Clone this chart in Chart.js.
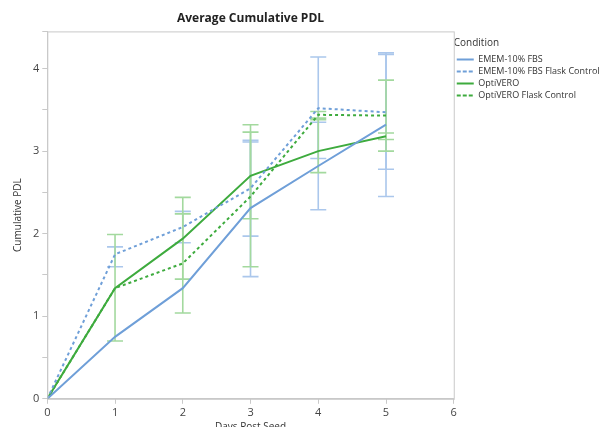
<!DOCTYPE html>
<html lang="en">
<head>
  <meta charset="UTF-8" />
  <title>Average Cumulative PDL</title>
  <script src="https://cdn.jsdelivr.net/npm/chart.js"></script>
  <style>
    body { margin: 0; background: #fff; }
    #wrap { width: 603px; height: 427px; }
  </style>
</head>
<body>
  <div id="wrap"><canvas id="grafico" width="603" height="427"></canvas></div>

  <script>
    // days post seed
    const days = [0, 1, 2, 3, 4, 5];

    // mean cumulative PDL per condition
    const ememFbs       = [0, 0.75, 1.34, 2.31, 2.82, 3.32];
    const ememFlask     = [0, 1.75, 2.08, 2.55, 3.52, 3.47];
    const optivero      = [0, 1.34, 1.94, 2.70, 3.00, 3.18];
    const optiveroFlask = [0, 1.34, 1.64, 2.45, 3.44, 3.43];

    // error bar ends (null = no bar)
    const ememFbsLow        = [null, null, null, 1.48, 2.29, 2.45];
    const ememFbsHigh       = [null, null, null, 3.13, 3.35, 4.19];
    const ememFlaskLow      = [null, 1.60, 1.89, 1.97, 2.91, 2.78];
    const ememFlaskHigh     = [null, 1.84, 2.27, 3.11, 4.14, 4.17];
    const optiveroLow       = [null, 0.70, 1.45, 2.18, 2.74, 3.14];
    const optiveroHigh      = [null, 1.99, 2.44, 3.23, 3.38, 3.22];
    const optiveroFlaskLow  = [null, null, 1.04, 1.60, 3.40, 3.00];
    const optiveroFlaskHigh = [null, null, 2.24, 3.32, 3.48, 3.86];

    const azul = '#6f9fd8', azulClaro = '#abc7ec';
    const verde = '#3eab3e', verdeClaro = '#a3d99e';

    function puntos(valores) {
      return days.map((d, i) => ({ x: d, y: valores[i] }));
    }

    function serie(nombre, valores, color, barra, punteada, lo, hi) {
      return {
        label: nombre,
        data: puntos(valores),
        borderColor: color,
        backgroundColor: color,
        borderWidth: 2,
        borderDash: punteada ? [3, 3] : [],
        pointRadius: 0,
        tension: 0,
        errLow: lo, errHigh: hi, errColor: barra
      };
    }

    // draws error bars from the arrays, through the chart scales
    const barrasError = {
      id: 'barrasError',
      beforeDatasetsDraw(chart) {
        const { ctx, scales: { x, y } } = chart;
        ctx.save();
        ctx.lineWidth = 1.6;
        chart.data.datasets.forEach(ds => {
          ctx.strokeStyle = ds.errColor;
          days.forEach((d, i) => {
            if (ds.errLow[i] == null) return;
            const px = x.getPixelForValue(d);
            const y1 = y.getPixelForValue(ds.errLow[i]);
            const y2 = y.getPixelForValue(ds.errHigh[i]);
            ctx.beginPath();
            ctx.moveTo(px, y1); ctx.lineTo(px, y2);
            ctx.moveTo(px - 8, y1); ctx.lineTo(px + 8, y1);
            ctx.moveTo(px - 8, y2); ctx.lineTo(px + 8, y2);
            ctx.stroke();
          });
        });
        ctx.restore();
      }
    };

    // frame around the plot
    const marco = {
      id: 'marco',
      afterDraw(chart) {
        const { ctx, chartArea: a } = chart;
        ctx.save();
        ctx.strokeStyle = '#c9c9c9';
        ctx.lineWidth = 1;
        ctx.strokeRect(a.left + 0.5, a.top + 0.5, a.right - a.left, a.bottom - a.top);
        ctx.restore();
      }
    };

    const fuente = "'Open Sans', 'DejaVu Sans', sans-serif";
    Chart.defaults.font.family = fuente;
    Chart.defaults.color = '#444';

    new Chart(document.getElementById('grafico').getContext('2d'), {
      type: 'line',
      data: {
        datasets: [
          serie('EMEM-10% FBS', ememFbs, azul, azulClaro, false, ememFbsLow, ememFbsHigh),
          serie('EMEM-10% FBS Flask Control', ememFlask, azul, azulClaro, true, ememFlaskLow, ememFlaskHigh),
          serie('OptiVERO', optivero, verde, verdeClaro, false, optiveroLow, optiveroHigh),
          serie('OptiVERO Flask Control', optiveroFlask, verde, verdeClaro, true, optiveroFlaskLow, optiveroFlaskHigh)
        ]
      },
      options: {
        responsive: false,
        animation: false,
        layout: { padding: { top: 4, right: 2, bottom: -6, left: 12 } },
        plugins: {
          title: {
            display: true,
            text: 'Average Cumulative PDL',
            color: '#222',
            font: { size: 12, weight: 'bold' },
            fullSize: false,
            padding: { top: 7, bottom: 6 }
          },
          legend: {
            position: 'right',
            align: 'start',
            title: {
              display: true,
              text: 'Condition',
              color: '#333',
              position: 'start',
              font: { size: 10 },
              padding: { top: 34, bottom: 2 }
            },
            labels: {
              boxWidth: 17,
              boxHeight: 0,
              padding: 3,
              color: '#333',
              font: { size: 9 }
            }
          },
          tooltip: { enabled: false }
        },
        scales: {
          x: {
            type: 'linear',
            min: 0, max: 6,
            ticks: { stepSize: 1, color: '#444', font: { size: 11 }, padding: 2 },
            grid: { drawOnChartArea: false, tickLength: 5, color: '#c9c9c9' },
            border: { color: '#c9c9c9' },
            title: { display: true, text: 'Days Post Seed', color: '#333', font: { size: 10 }, padding: { top: 0, bottom: 0 } }
          },
          y: {
            type: 'linear',
            min: 0, max: 4.45,
            ticks: {
              stepSize: 0.5,
              color: '#444',
              font: { size: 11 },
              padding: 3,
              callback: v => Number.isInteger(v) ? v : ''
            },
            grid: { drawOnChartArea: false, tickLength: 5, color: '#c9c9c9' },
            border: { color: '#c9c9c9' },
            title: { display: true, text: 'Cumulative PDL', color: '#333', font: { size: 10 }, padding: { top: 0, bottom: 6 } }
          }
        }
      },
      plugins: [barrasError, marco]
    });
  </script>
</body>
</html>
